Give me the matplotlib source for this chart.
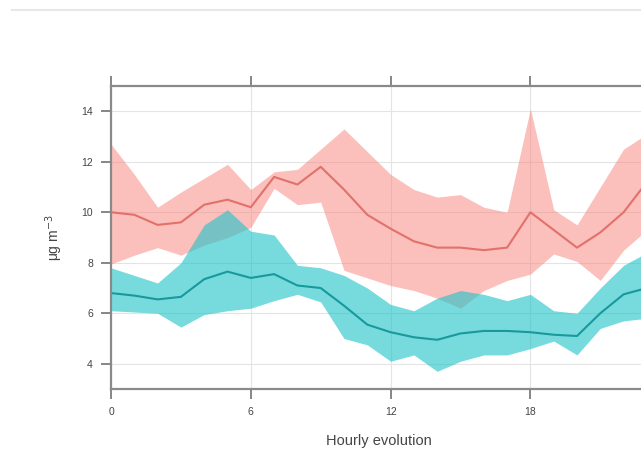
import matplotlib.pyplot as plt
from matplotlib.lines import Line2D

# hourly means and their confidence bands (two sites)
hours = list(range(24))

red_mean = [10.0, 9.9, 9.5, 9.6, 10.3, 10.5, 10.2, 11.4, 11.1, 11.8, 10.9, 9.9,
            9.35, 8.85, 8.6, 8.6, 8.5, 8.6, 10.0, 9.3, 8.6, 9.2, 10.0, 11.2]
red_upper = [12.7, 11.5, 10.2, 10.8, 11.35, 11.9, 10.9, 11.6, 11.7, 12.5, 13.3, 12.4,
             11.5, 10.9, 10.6, 10.7, 10.2, 10.0, 14.1, 10.1, 9.5, 11.0, 12.5, 13.1]
red_lower = [7.95, 8.3, 8.6, 8.3, 8.7, 9.0, 9.4, 10.95, 10.3, 10.4, 7.7, 7.4,
             7.1, 6.9, 6.6, 6.2, 6.9, 7.3, 7.55, 8.35, 8.05, 7.3, 8.5, 9.3]

cyan_mean = [6.8, 6.7, 6.55, 6.65, 7.35, 7.65, 7.4, 7.55, 7.1, 7.0, 6.3, 5.55,
             5.25, 5.05, 4.95, 5.2, 5.3, 5.3, 5.25, 5.15, 5.1, 6.0, 6.75, 7.0]
cyan_upper = [7.8, 7.5, 7.2, 8.0, 9.5, 10.1, 9.25, 9.1, 7.9, 7.8, 7.5, 7.0,
              6.35, 6.1, 6.6, 6.9, 6.75, 6.5, 6.75, 6.1, 6.0, 7.0, 7.9, 8.4]
cyan_lower = [6.1, 6.05, 6.0, 5.45, 5.95, 6.1, 6.2, 6.5, 6.75, 6.45, 5.0, 4.75,
              4.1, 4.35, 3.7, 4.1, 4.35, 4.35, 4.6, 4.9, 4.35, 5.4, 5.7, 5.8]

x_ticks = [0, 6, 12, 18, 23]
y_ticks = [4, 6, 8, 10, 12, 14]

plt.rcParams['font.family'] = ['Liberation Sans', 'DejaVu Sans']

fig = plt.figure(figsize=(6.41, 4.65), dpi=100)
ax = fig.add_axes([0.1732, 0.1634, 0.836, 0.6516])

ax.fill_between(hours, red_lower, red_upper, color='#F8827B', alpha=0.5, lw=0)
ax.fill_between(hours, cyan_lower, cyan_upper, color='#1CC3C8', alpha=0.6, lw=0)
ax.plot(hours, red_mean, color='#E2706B', lw=1.5)
ax.plot(hours, cyan_mean, color='#17999D', lw=1.5)

ax.set_xlim(0, 23)
ax.set_ylim(3.0, 15.0)
ax.set_xticks(x_ticks)
ax.set_yticks(y_ticks)
ax.grid(True, color='#e4e4e4', lw=0.8)
ax.set_axisbelow(True)

for side in ['top', 'bottom', 'left', 'right']:
    ax.spines[side].set_color('#8a8a8a')
    ax.spines[side].set_linewidth(1.6)

ax.tick_params(axis='x', which='both', top=True, direction='out', length=7,
               width=1.1, color='#666666', labelsize=7.5, labelcolor='#444444', pad=6)
ax.tick_params(axis='y', direction='out', length=7, width=1.1, color='#666666',
               labelsize=7.5, labelcolor='#444444', pad=6)

ax.set_xlabel('Hourly evolution', fontsize=10.5, color='#444444', labelpad=12)
ax.set_ylabel('μg m$^{-3}$', fontsize=10, color='#444444', labelpad=12)

# faint rule across the top of the page
fig.add_artist(Line2D([0.018, 1.0], [0.978, 0.978], color='#e8e8e8', lw=1.5))

fig.savefig('out.png', dpi=100)
